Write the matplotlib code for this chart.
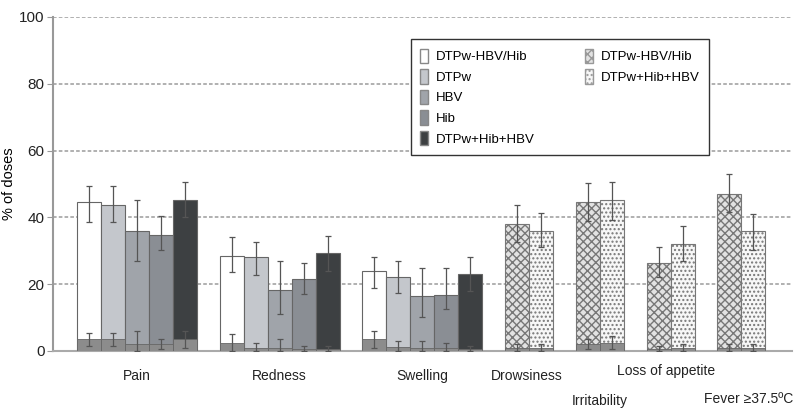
import matplotlib.pyplot as plt
from matplotlib.patches import Patch
import numpy as np

plt.rcParams['font.family'] = ['Liberation Sans', 'DejaVu Sans']
plt.rcParams['hatch.color'] = '#999999'

# local symptoms, 5 vaccine groups each
local_symptoms = ['Pain', 'Redness', 'Swelling']
local_groups = ['DTPw-HBV/Hib', 'DTPw', 'HBV', 'Hib', 'DTPw+Hib+HBV']
local_any = [[44.5, 43.8, 35.8, 34.8, 45.3],
             [28.5, 28.0, 18.2, 21.5, 29.3],
             [23.8, 22.2, 16.5, 16.8, 23.0]]
local_any_lo = [[38.7, 38.7, 26.8, 30.2, 40.0],
                [23.5, 22.7, 11.0, 17.0, 24.0],
                [18.8, 17.5, 10.2, 12.5, 18.0]]
local_any_hi = [[49.5, 49.5, 45.3, 40.5, 50.7],
                [34.0, 32.7, 27.0, 26.2, 34.3],
                [28.0, 27.0, 24.7, 24.7, 28.0]]
local_sev = [[3.5, 3.5, 2.0, 2.0, 3.5],
             [2.5, 1.0, 1.0, 0.5, 0.5],
             [3.5, 1.2, 1.0, 0.8, 0.5]]
local_sev_hi = [[5.5, 5.5, 6.0, 3.5, 6.0],
                [5.0, 2.5, 3.5, 1.5, 1.5],
                [6.0, 3.0, 3.0, 2.5, 1.5]]

# general symptoms, 2 groups each
general_symptoms = ['Drowsiness', 'Irritability', 'Loss of appetite', 'Fever \u226537.5\u00baC']
general_groups = ['DTPw-HBV/Hib', 'DTPw+Hib+HBV']
general_any = [[38.0, 35.8], [44.5, 45.2], [26.2, 32.0], [47.0, 35.8]]
general_any_lo = [[32.5, 31.0], [39.0, 39.3], [22.0, 27.0], [41.5, 30.2]]
general_any_hi = [[43.8, 41.3], [50.2, 50.7], [31.0, 37.5], [53.0, 41.0]]
general_sev = [[1.0, 1.0], [2.0, 2.5], [0.5, 0.8], [0.8, 0.8]]
general_sev_hi = [[2.0, 2.0], [3.5, 4.5], [1.5, 2.0], [2.0, 2.0]]

local_colors = ['white', '#c4c7cc', '#a0a4aa', '#8a8e94', '#3d4042']
general_fc = ['#e2e2e2', '#f7f7f7']
general_hatch = ['xxxx', '....']
sev_color = '#8c8c8c'
err_kw = dict(ecolor='#555555', elinewidth=0.9, capsize=2, capthick=0.9)

fig = plt.figure(figsize=(7.97, 4.11), dpi=100)
ax = fig.add_axes([0.0665, 0.146, 0.927, 0.813])

gap = 0.95
start = 1.0
label_pos = []
for i, name in enumerate(local_symptoms):
    x = start + np.arange(5) + 0.5
    a = np.array(local_any[i])
    ax.bar(x, a, width=1.0, color=local_colors, edgecolor='#666666', linewidth=0.8, zorder=2,
           yerr=[a - np.array(local_any_lo[i]), np.array(local_any_hi[i]) - a], error_kw=err_kw)
    s = np.array(local_sev[i])
    ax.bar(x, s, width=1.0, color=sev_color, edgecolor='#666666', linewidth=0.6, zorder=3,
           yerr=[np.minimum(s, np.array(local_sev_hi[i]) - s), np.array(local_sev_hi[i]) - s],
           error_kw=err_kw)
    label_pos.append(start + 2.5)
    start += 5 + gap

for i, name in enumerate(general_symptoms):
    x = start + np.arange(2) + 0.5
    a = np.array(general_any[i])
    for j in range(2):
        ax.bar(x[j], a[j], width=1.0, color=general_fc[j], edgecolor='#777777', linewidth=0.8,
               hatch=general_hatch[j], zorder=2,
               yerr=[[a[j] - general_any_lo[i][j]], [general_any_hi[i][j] - a[j]]], error_kw=err_kw)
    s = np.array(general_sev[i])
    ax.bar(x, s, width=1.0, color=sev_color, edgecolor='#666666', linewidth=0.6, zorder=3,
           yerr=[np.minimum(s, np.array(general_sev_hi[i]) - s), np.array(general_sev_hi[i]) - s],
           error_kw=err_kw)
    label_pos.append(start + 1)
    start += 2 + gap

ax.set_xlim(0, 30.8)
ax.set_ylim(0, 100)
ax.set_yticks([0, 20, 40, 60, 80, 100])
ax.set_xticks([])
ax.tick_params(axis='y', labelsize=11, colors='#222222', length=4, color='#999999', pad=2)
ax.set_ylabel('% of doses', fontsize=10.5)
ax.yaxis.set_label_coords(-0.05, 0.5)
ax.yaxis.grid(True, linestyle=(0, (2, 1.2)), color='#aaaaaa', linewidth=1.3, zorder=0)
ax.set_axisbelow(True)
for side in ['top', 'right']:
    ax.spines[side].set_visible(False)
ax.spines['left'].set_color('#999999')
ax.spines['left'].set_linewidth(1.5)
ax.spines['bottom'].set_color('#aaaaaa')
ax.spines['bottom'].set_linewidth(1.5)

# staggered category labels
offsets = [-7.5, -7.5, -7.5, -7.5, -15, -6, -14.5]
shifts = [0, 0, 0, -0.1, 0, -0.2, 0.3]
for k, name in enumerate(local_symptoms + general_symptoms):
    ax.text(label_pos[k] + shifts[k], offsets[k], name, ha='center', va='center', fontsize=10,
            color='#222222', clip_on=False)

handles = []
labels = []
for c, g in zip(local_colors, local_groups):
    handles.append(Patch(facecolor=c, edgecolor='#888888'))
    labels.append(g)
for fc, h, g in zip(general_fc, general_hatch, general_groups):
    handles.append(Patch(facecolor=fc, edgecolor='#999999', hatch=h))
    labels.append(g)
for _ in range(3):
    handles.append(Patch(facecolor='none', edgecolor='none'))
    labels.append('')
ax.legend(handles, labels, ncol=2, loc='upper left', bbox_to_anchor=(0.475, 0.952),
          fontsize=9.5, frameon=True, fancybox=False, edgecolor='#333333', framealpha=1,
          handlelength=0.6, handleheight=1.3, handletextpad=0.6, columnspacing=3.8,
          labelspacing=0.45, borderpad=0.7)

fig.savefig('out.png', dpi=100)
